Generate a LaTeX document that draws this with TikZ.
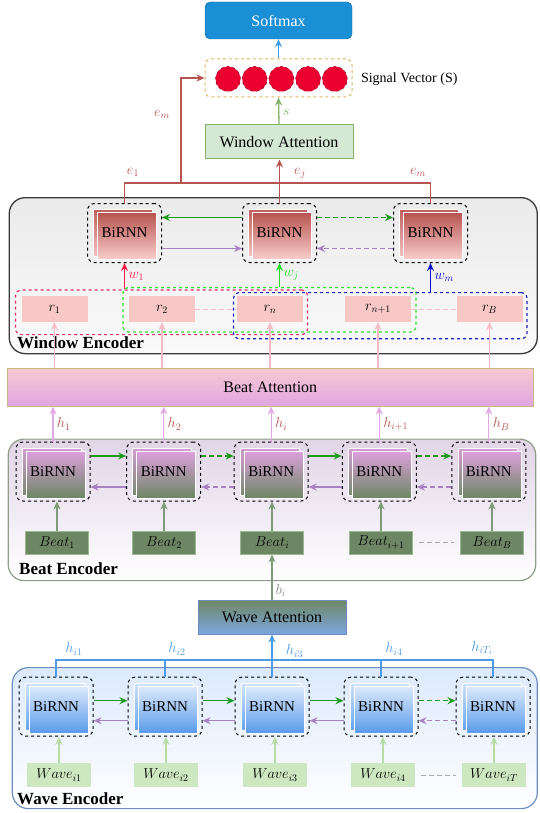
\documentclass[tikz,border=0pt]{standalone}
\usepackage{fontspec}
\setmainfont{Liberation Serif}
\usepackage{amssymb, mathtools}
\usepackage{tikz}
\usetikzlibrary{arrows.meta}
\usetikzlibrary{calc, positioning}

\definecolor{softblue}{HTML}{1B8FD5}
\definecolor{softedge}{HTML}{1468A0}
\definecolor{softarr}{HTML}{3C9BE6}
\definecolor{sigedge}{HTML}{E0B45A}
\definecolor{sigred}{HTML}{EC0030}
\definecolor{sigdark}{HTML}{A00022}
\definecolor{attgreen}{HTML}{D5E8D4}
\definecolor{attedge}{HTML}{82B366}
\definecolor{elinered}{HTML}{B85450}
\definecolor{rnnred}{HTML}{B85450}
\definecolor{rnnpink}{HTML}{F8CECC}
\definecolor{rpink}{HTML}{F7C8C6}
\definecolor{wred}{HTML}{FF1A4A}
\definecolor{wgreen}{HTML}{22DD22}
\definecolor{wblue}{HTML}{0A0ACC}
\definecolor{selred}{HTML}{E0306A}
\definecolor{selgreen}{HTML}{33E033}
\definecolor{selblue}{HTML}{2020C8}
\definecolor{fwdgreen}{HTML}{1E9A1E}
\definecolor{bwdpurple}{HTML}{A682C4}
\definecolor{pinkup}{HTML}{F5BCC6}
\definecolor{violup}{HTML}{E2A8E6}
\definecolor{beattop}{HTML}{F7C9D3}
\definecolor{beatbot}{HTML}{E0A6E0}
\definecolor{beatedge}{HTML}{C9B884}
\definecolor{benctop}{HTML}{E1D5E7}
\definecolor{rnnviol}{HTML}{DDA0DD}
\definecolor{rnngreen}{HTML}{6D8764}
\definecolor{beatboxedge}{HTML}{9AB892}
\definecolor{beatup}{HTML}{7E9B77}
\definecolor{waveblue}{HTML}{7EA6E0}
\definecolor{waveedge}{HTML}{6C8EBF}
\definecolor{hblue}{HTML}{4C9BE8}
\definecolor{rnnlight}{HTML}{DCEAFC}
\definecolor{rnnblue}{HTML}{5A9AEC}
\definecolor{wavebox}{HTML}{CDE8C0}
\definecolor{waveup}{HTML}{B8DDA4}
\definecolor{encgray}{HTML}{3A3A3A}
\definecolor{bencedge}{HTML}{8E9C8A}
\definecolor{dotgray}{HTML}{A8A8A8}
\definecolor{bigray}{HTML}{8A8A8A}

\begin{document}
\begin{tikzpicture}[x=1pt, y=-1pt, font=\fontsize{14.5}{17}\selectfont,
  >={Stealth[length=8pt, width=7pt]},
  encbox/.style={rounded corners=16pt, inner sep=0pt, anchor=north west},
  enclbl/.style={anchor=west, inner sep=0pt, font=\fontsize{17}{19}\selectfont\bfseries},
  bigtext/.style={font=\fontsize{16}{18}\selectfont},
  rnnbox/.style 2 args={draw=black, dashed, line width=1pt, rounded corners=7pt,
    minimum width=74, minimum height=59, inner sep=0pt, font=\fontsize{15}{17}\selectfont,
    path picture={
      \shade[solid, sharp corners, top color=#1, bottom color=#2, draw=white, line width=0.6pt]
        ($(path picture bounding box.center)+(-31,-23.5)$) rectangle ++(59,47);
      \shade[solid, sharp corners, top color=#1, bottom color=#2, draw=white, line width=0.6pt]
        ($(path picture bounding box.center)+(-27,-20.5)$) rectangle ++(59,47);
    }},
  rbox/.style={fill=rpink, minimum width=66, minimum height=26, inner sep=0pt},
  selbox/.style={dashed, line width=1.2pt, rounded corners=6pt, inner sep=0pt},
  beatbox/.style={fill=rnngreen, draw=beatboxedge, line width=0.8pt, minimum width=63, minimum height=23, inner sep=0pt},
  wavebox/.style={fill=wavebox, minimum width=64, minimum height=24, inner sep=0pt},
  fwd/.style={->, fwdgreen, line width=1.3pt},
  bwd/.style={->, bwdpurple, line width=1.3pt},
  dsh/.style={dash pattern=on 5pt off 3pt},
  elbl/.style={text=elinered, inner sep=1pt}]
\useasboundingbox (0,0) rectangle (540,813);

% output part
\node[bigtext, fill=softblue, draw=softedge, rounded corners=5pt, minimum width=147, minimum height=37, text=white] (soft) at (278.5,20.5) {Softmax};
\node[draw=sigedge, dashed, line width=1pt, rounded corners=6pt, minimum width=147, minimum height=38] (sig) at (278.5,78) {};
\node[circle, fill=sigred, draw=sigdark, dashed, line width=0.6pt, minimum size=25, inner sep=0pt] (s1) at (228,79) {};
\node[circle, fill=sigred, draw=sigdark, dashed, line width=0.6pt, minimum size=25, inner sep=0pt] (s2) at (254.7,79) {};
\node[circle, fill=sigred, draw=sigdark, dashed, line width=0.6pt, minimum size=25, inner sep=0pt] (s3) at (281.4,79) {};
\node[circle, fill=sigred, draw=sigdark, dashed, line width=0.6pt, minimum size=25, inner sep=0pt] (s4) at (308.1,79) {};
\node[circle, fill=sigred, draw=sigdark, dashed, line width=0.6pt, minimum size=25, inner sep=0pt] (s5) at (334.8,79) {};
\node[anchor=west, font=\fontsize{14}{16}\selectfont] (siglbl) at (357.5,79) {Signal Vector (S)};
\draw[->, softarr, line width=1.3pt] (sig.north) -- (soft.south);
\node[bigtext, fill=attgreen, draw=attedge, line width=1pt, minimum width=148, minimum height=34] (watt) at (279,142) {Window Attention};
\draw[->, attedge, line width=1.3pt] (watt.north) -- node[right, pos=0.43, text=attedge] (slbl) {$s$} (sig.south);

% window encoder
\node[encbox, draw=encgray, line width=1.3pt, top color=black!8, bottom color=black!2, minimum width=528, minimum height=156] (winenc) at (8.6,197) {};
\node[enclbl] (winlbl) at (17,343) {Window Encoder};
\node[rnnbox={rnnred}{rnnpink}] (wr1) at (124.5,233) {BiRNN};
\node[rnnbox={rnnred}{rnnpink}] (wr2) at (279.5,233) {BiRNN};
\node[rnnbox={rnnred}{rnnpink}] (wr3) at (430.5,233) {BiRNN};
\draw[fwd] ($(wr2.west)+(0,-15.5)$) -- ($(wr1.east)+(0,-15.5)$);
\draw[fwd, dsh] ($(wr2.east)+(0,-15.5)$) -- ($(wr3.west)+(0,-15.5)$);
\draw[bwd] ($(wr1.east)+(0,15.5)$) -- ($(wr2.west)+(0,15.5)$);
\draw[bwd, dsh] ($(wr3.west)+(0,15.5)$) -- ($(wr2.east)+(0,15.5)$);

\coordinate (ebar) at (0,183);
\coordinate (etap) at (181,183);
\draw[elinered, line width=1.3pt] (wr1.north) -- (wr1 |- ebar) -- (wr3 |- ebar) -- (wr3.north);
\draw[->, elinered, line width=1.3pt] (wr2.north) -- (wr2 |- watt.south);
\draw[->, elinered, line width=1.3pt] (etap) |- (sig.west);
\node[elbl] (e1lbl) at (133,172) {$e_1$};
\node[elbl] (ejlbl) at (300,173) {$e_j$};
\node[elbl] (emlbl) at (418,172) {$e_m$};
\node[elbl] (emtop) at (162,114) {$e_m$};

\node[rbox] (r1) at (54.5,309) {$r_1$};
\node[rbox] (r2) at (162,309) {$r_2$};
\node[rbox] (rn) at (270,309) {$r_n$};
\node[rbox] (rn1) at (378,309) {$r_{n+1}$};
\node[rbox] (rB) at (489.5,309) {$r_B$};
\draw[pinkup, dsh, line width=0.8pt] (r2.east) -- (rn.west);
\draw[pinkup, dsh, line width=0.8pt] (rn1.east) -- (rB.west);
\node[selbox, draw=selred, minimum width=292, minimum height=44.6] (selr) at (161.5,312.3) {};
\node[selbox, draw=selgreen, minimum width=293, minimum height=44.5] (selg) at (269.5,309.8) {};
\node[selbox, draw=selblue, minimum width=293.5, minimum height=46.2] (selb) at (380.3,315.7) {};
\draw[->, wred, line width=1.5pt] (wr1 |- selr.north) -- node[right, text=wred] (w1lbl) {$w_1$} (wr1.south);
\draw[->, wgreen, line width=1.5pt] (wr2 |- selg.north) -- node[right, text=wgreen] (wjlbl) {$w_j$} (wr2.south);
\draw[->, wblue, line width=1.5pt] (wr3 |- selb.north) -- node[right, text=wblue] (wmlbl) {$w_m$} (wr3.south);

% beat attention
\node[bigtext, top color=beattop, bottom color=beatbot, draw=beatedge, line width=1pt, minimum width=525.4, minimum height=38] (batt) at (270.3,387) {Beat Attention};
\draw[->, pinkup, line width=1.3pt] (r1 |- batt.north) -- (r1.south);
\draw[->, pinkup, line width=1.3pt] (r2 |- batt.north) -- (r2.south);
\draw[->, pinkup, line width=1.3pt] (rn |- batt.north) -- (rn.south);
\draw[->, pinkup, line width=1.3pt] (rn1 |- batt.north) -- (rn1.south);
\draw[->, pinkup, line width=1.3pt] (rB |- batt.north) -- (rB.south);

% beat encoder
\node[encbox, draw=bencedge, line width=1.2pt, top color=benctop, bottom color=white, minimum width=527.5, minimum height=141.5] (beatenc) at (7.6,438.5) {};
\node[enclbl] (beatlbl) at (19,569) {Beat Encoder};
\node[rnnbox={rnnviol}{rnngreen}] (br1) at (53,471.5) {BiRNN};
\node[rnnbox={rnnviol}{rnngreen}] (br2) at (163.7,471.5) {BiRNN};
\node[rnnbox={rnnviol}{rnngreen}] (br3) at (271.2,471.5) {BiRNN};
\node[rnnbox={rnnviol}{rnngreen}] (br4) at (379.3,471.5) {BiRNN};
\node[rnnbox={rnnviol}{rnngreen}] (br5) at (488.8,471.5) {BiRNN};
\draw[fwd] ($(br1.east)+(0,-15.5)$) -- ($(br2.west)+(0,-15.5)$);
\draw[fwd, dsh] ($(br2.east)+(0,-15.5)$) -- ($(br3.west)+(0,-15.5)$);
\draw[fwd] ($(br3.east)+(0,-15.5)$) -- ($(br4.west)+(0,-15.5)$);
\draw[fwd, dsh] ($(br4.east)+(0,-15.5)$) -- ($(br5.west)+(0,-15.5)$);
\draw[bwd] ($(br2.west)+(0,15.5)$) -- ($(br1.east)+(0,15.5)$);
\draw[bwd, dsh] ($(br3.west)+(0,15.5)$) -- ($(br2.east)+(0,15.5)$);
\draw[bwd] ($(br4.west)+(0,15.5)$) -- ($(br3.east)+(0,15.5)$);
\draw[bwd, dsh] ($(br5.west)+(0,15.5)$) -- ($(br4.east)+(0,15.5)$);
\draw[->, violup, line width=1.3pt] (br1.north) -- node[right, text=elinered] (h1lbl) {$h_1$} (br1 |- batt.south);
\draw[->, violup, line width=1.3pt] (br2.north) -- node[right, text=elinered] (h2lbl) {$h_2$} (br2 |- batt.south);
\draw[->, violup, line width=1.3pt] (br3.north) -- node[right, text=elinered] (hilbl) {$h_i$} (br3 |- batt.south);
\draw[->, violup, line width=1.3pt] (br4.north) -- node[right, text=elinered] (hi1lbl) {$h_{i+1}$} (br4 |- batt.south);
\draw[->, violup, line width=1.3pt] (br5.north) -- node[right, text=elinered] (hBlbl) {$h_B$} (br5 |- batt.south);

\node[beatbox] (bt1) at (57,542.5) {$Beat_1$};
\node[beatbox] (bt2) at (164,542.5) {$Beat_2$};
\node[beatbox] (bt3) at (272,542.5) {$Beat_i$};
\node[beatbox] (bt4) at (381,542.5) {$Beat_{i+1}$};
\node[beatbox] (bt5) at (492,542.5) {$Beat_B$};
\draw[->, beatup, line width=1.3pt] (bt1.north) -- (bt1.north |- br1.south);
\draw[->, beatup, line width=1.3pt] (bt2.north) -- (bt2.north |- br2.south);
\draw[->, beatup, line width=1.3pt] (bt3.north) -- (bt3.north |- br3.south);
\draw[->, beatup, line width=1.3pt] (bt4.north) -- (bt4.north |- br4.south);
\draw[->, beatup, line width=1.3pt] (bt5.north) -- (bt5.north |- br5.south);
\draw[dotgray, dsh, line width=0.8pt] ($(bt4.east)+(6,0)$) -- ($(bt5.west)+(-6,0)$);

% wave attention
\node[bigtext, top color=rnngreen, bottom color=waveblue, draw=waveedge, line width=1pt, minimum width=148, minimum height=34] (wavatt) at (272,617) {Wave Attention};
\draw[->, beatup, line width=1.3pt] (wavatt.north) -- node[right, pos=0.2, text=bigray] (bilbl) {$b_i$} (bt3.south);

% wave encoder
\node[encbox, draw=waveedge, line width=1.2pt, top color=rnnlight, bottom color=white, minimum width=525, minimum height=141] (waveenc) at (11.7,667) {};
\node[enclbl] (wavelbl) at (17,799) {Wave Encoder};
\node[rnnbox={rnnlight}{rnnblue}] (vr1) at (56,706.7) {BiRNN};
\node[rnnbox={rnnlight}{rnnblue}] (vr2) at (165,706.7) {BiRNN};
\node[rnnbox={rnnlight}{rnnblue}] (vr3) at (272,706.7) {BiRNN};
\node[rnnbox={rnnlight}{rnnblue}] (vr4) at (381,706.7) {BiRNN};
\node[rnnbox={rnnlight}{rnnblue}] (vr5) at (493,706.7) {BiRNN};
\draw[fwd] ($(vr1.east)+(0,-6)$) -- ($(vr2.west)+(0,-6)$);
\draw[fwd] ($(vr2.east)+(0,-6)$) -- ($(vr3.west)+(0,-6)$);
\draw[fwd] ($(vr3.east)+(0,-6)$) -- ($(vr4.west)+(0,-6)$);
\draw[fwd, dsh] ($(vr4.east)+(0,-6)$) -- ($(vr5.west)+(0,-6)$);
\draw[bwd] ($(vr2.west)+(0,14)$) -- ($(vr1.east)+(0,14)$);
\draw[bwd] ($(vr3.west)+(0,14)$) -- ($(vr2.east)+(0,14)$);
\draw[bwd] ($(vr4.west)+(0,14)$) -- ($(vr3.east)+(0,14)$);
\draw[bwd, dsh] ($(vr5.west)+(0,14)$) -- ($(vr4.east)+(0,14)$);

\coordinate (hbar) at (0,660);
\draw[hblue, line width=1.2pt] (vr1.north) -- (vr1 |- hbar) -- (vr5 |- hbar) -- (vr5.north);
\draw[hblue, line width=1.2pt] (vr2.north) -- (vr2 |- hbar);
\draw[hblue, line width=1.2pt] (vr4.north) -- (vr4 |- hbar);
\draw[->, hblue, line width=1.3pt] (vr3.north) -- (wavatt.south);
\node[text=hblue] (hi1) at (74,649) {$h_{i1}$};
\node[text=hblue] (hi2) at (177,649) {$h_{i2}$};
\node[text=hblue] (hi3) at (294.5,651) {$h_{i3}$};
\node[text=hblue] (hi4) at (394,649) {$h_{i4}$};
\node[text=hblue] (hiT) at (482,648) {$h_{iT_i}$};

\node[wavebox] (wv1) at (59,775) {$Wave_{i1}$};
\node[wavebox] (wv2) at (166,775) {$Wave_{i2}$};
\node[wavebox] (wv3) at (275,775) {$Wave_{i3}$};
\node[wavebox] (wv4) at (383,775) {$Wave_{i4}$};
\node[wavebox] (wv5) at (494,775) {$Wave_{iT}$};
\draw[->, waveup, line width=1.3pt] (wv1.north) -- (wv1.north |- vr1.south);
\draw[->, waveup, line width=1.3pt] (wv2.north) -- (wv2.north |- vr2.south);
\draw[->, waveup, line width=1.3pt] (wv3.north) -- (wv3.north |- vr3.south);
\draw[->, waveup, line width=1.3pt] (wv4.north) -- (wv4.north |- vr4.south);
\draw[->, waveup, line width=1.3pt] (wv5.north) -- (wv5.north |- vr5.south);
\draw[dotgray, dsh, line width=0.8pt] ($(wv4.east)+(6,0)$) -- ($(wv5.west)+(-6,0)$);
\end{tikzpicture}
\end{document}
